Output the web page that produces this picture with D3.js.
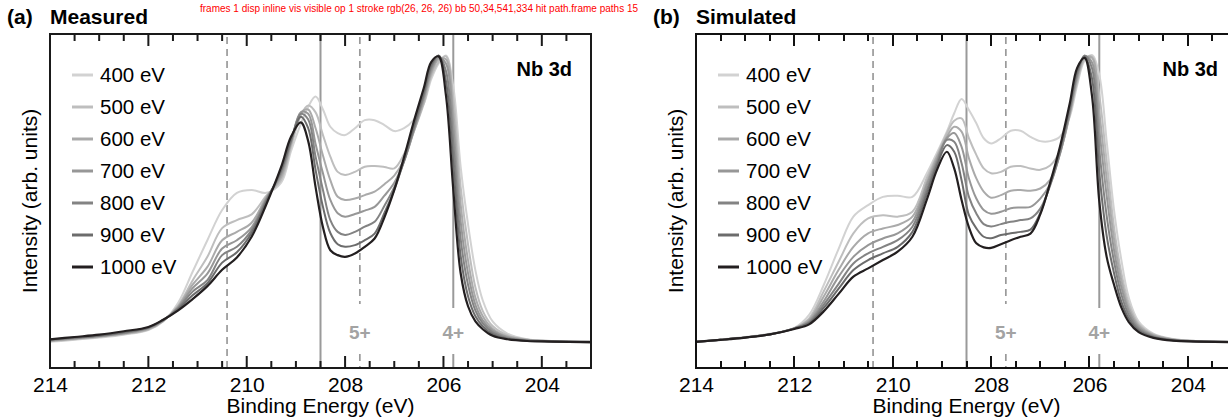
<!DOCTYPE html>
<html>
<head>
<meta charset="utf-8">
<script src="https://cdn.jsdelivr.net/npm/d3@7"></script>
<style>
  body { margin: 0; background: #fff; }
  #wrap { position: relative; width: 1228px; height: 420px; overflow: hidden; }
  svg { display: block; font-family: "Liberation Sans", Arial, sans-serif; }
  .bar { position: absolute; background: #111; }
</style>
</head>
<body>
<div id="wrap"><svg id="chart" width="1228" height="420"></svg></div>
<script>
// binding energy grid (eV) shared by all curves
var energy = [214, 213.5, 213, 212.5, 212, 211.7, 211.4, 211.1, 210.8, 210.5, 210.2, 209.9, 209.6, 209.3, 209.1,
  208.9, 208.75, 208.6, 208.45, 208.3, 208.15, 208.0, 207.8, 207.6, 207.4, 207.2, 207.0, 206.8, 206.6, 206.4,
  206.25, 206.1, 205.95, 205.8, 205.65, 205.5, 205.35, 205.2, 205.0, 204.7, 204.3, 203.8, 203]

var photonEnergies = ["400 eV", "500 eV", "600 eV", "700 eV", "800 eV", "900 eV", "1000 eV"]

// (a) measured spectra, normalised intensity
var meas400 = [0.001, 0.008, 0.016, 0.026, 0.042, 0.072, 0.135, 0.245, 0.355, 0.46, 0.52, 0.53, 0.52, 0.555, 0.665,
  0.76, 0.82, 0.855, 0.81, 0.75, 0.728, 0.721, 0.745, 0.773, 0.773, 0.756, 0.735, 0.745, 0.775, 0.83,
  0.915, 0.97, 0.998, 0.89, 0.61, 0.41, 0.25, 0.145, 0.072, 0.03, 0.010, 0.004, 0.001]
var meas500 = [0.003, 0.010, 0.018, 0.028, 0.044, 0.073, 0.126, 0.215, 0.297, 0.397, 0.425, 0.445, 0.51, 0.565, 0.68,
  0.79, 0.824, 0.80, 0.721, 0.646, 0.593, 0.582, 0.593, 0.611, 0.613, 0.61, 0.605, 0.655, 0.735, 0.83,
  0.925, 0.975, 0.995, 0.85, 0.54, 0.34, 0.19, 0.108, 0.056, 0.024, 0.009, 0.004, 0.001]
var meas600 = [0.005, 0.012, 0.020, 0.030, 0.046, 0.074, 0.123, 0.20, 0.262, 0.355, 0.384, 0.416, 0.505, 0.575, 0.69,
  0.80, 0.81, 0.745, 0.65, 0.564, 0.506, 0.495, 0.50, 0.512, 0.524, 0.55, 0.58, 0.635, 0.735, 0.84,
  0.935, 0.985, 0.985, 0.80, 0.48, 0.285, 0.155, 0.09, 0.047, 0.020, 0.008, 0.003, 0.001]
var meas700 = [0.006, 0.013, 0.021, 0.031, 0.048, 0.075, 0.12, 0.188, 0.239, 0.326, 0.355, 0.40, 0.50, 0.585, 0.695,
  0.80, 0.795, 0.69, 0.588, 0.495, 0.449, 0.437, 0.446, 0.458, 0.471, 0.51, 0.555, 0.63, 0.74, 0.85,
  0.945, 0.99, 0.97, 0.75, 0.42, 0.24, 0.13, 0.076, 0.04, 0.017, 0.007, 0.003, 0.001]
var meas800 = [0.008, 0.015, 0.022, 0.033, 0.050, 0.076, 0.117, 0.176, 0.216, 0.303, 0.332, 0.39, 0.495, 0.595, 0.70,
  0.795, 0.775, 0.646, 0.53, 0.425, 0.384, 0.373, 0.384, 0.402, 0.419, 0.475, 0.54, 0.63, 0.745, 0.86,
  0.955, 0.997, 0.945, 0.69, 0.36, 0.20, 0.11, 0.065, 0.034, 0.014, 0.006, 0.003, 0.000]
var meas900 = [0.009, 0.016, 0.023, 0.035, 0.051, 0.077, 0.114, 0.163, 0.205, 0.277, 0.313, 0.38, 0.49, 0.60, 0.705,
  0.785, 0.745, 0.60, 0.471, 0.38, 0.341, 0.332, 0.338, 0.355, 0.378, 0.45, 0.53, 0.635, 0.755, 0.87,
  0.965, 0.998, 0.91, 0.62, 0.30, 0.16, 0.09, 0.055, 0.028, 0.012, 0.005, 0.002, 0.000]
var meas1000 = [0.010, 0.018, 0.026, 0.038, 0.053, 0.078, 0.110, 0.150, 0.195, 0.252, 0.295, 0.367, 0.48, 0.61, 0.715,
  0.765, 0.70, 0.54, 0.40, 0.32, 0.303, 0.297, 0.309, 0.332, 0.361, 0.435, 0.53, 0.645, 0.77, 0.885,
  0.975, 0.995, 0.86, 0.53, 0.24, 0.125, 0.072, 0.045, 0.022, 0.010, 0.004, 0.002, 0.000]

// (b) simulated spectra
var sim400 = [0.002, 0.009, 0.018, 0.029, 0.05, 0.095, 0.20, 0.325, 0.437, 0.477, 0.506, 0.51, 0.506, 0.59, 0.66,
  0.733, 0.797, 0.847, 0.808, 0.762, 0.71, 0.692, 0.71, 0.736, 0.736, 0.715, 0.70, 0.70, 0.715, 0.785,
  0.895, 0.98, 1.0, 0.93, 0.70, 0.46, 0.285, 0.155, 0.072, 0.03, 0.011, 0.004, 0.001]
var sim500 = [0.001, 0.008, 0.016, 0.027, 0.048, 0.083, 0.178, 0.28, 0.379, 0.431, 0.442, 0.437, 0.454, 0.575, 0.65,
  0.727, 0.771, 0.779, 0.71, 0.652, 0.605, 0.588, 0.593, 0.611, 0.613, 0.605, 0.60, 0.615, 0.665, 0.79,
  0.905, 0.985, 0.995, 0.86, 0.63, 0.40, 0.24, 0.135, 0.064, 0.027, 0.010, 0.004, 0.001]
var sim600 = [0.001, 0.008, 0.016, 0.027, 0.048, 0.078, 0.16, 0.252, 0.332, 0.379, 0.396, 0.408, 0.437, 0.56, 0.645,
  0.715, 0.75, 0.733, 0.64, 0.57, 0.524, 0.503, 0.512, 0.527, 0.53, 0.527, 0.535, 0.565, 0.655, 0.795,
  0.915, 0.99, 0.99, 0.80, 0.57, 0.36, 0.215, 0.12, 0.058, 0.024, 0.009, 0.003, 0.001]
var sim700 = [0.001, 0.008, 0.016, 0.027, 0.048, 0.073, 0.143, 0.228, 0.297, 0.338, 0.361, 0.379, 0.419, 0.55, 0.635,
  0.71, 0.728, 0.68, 0.57, 0.50, 0.46, 0.447, 0.454, 0.466, 0.469, 0.471, 0.50, 0.55, 0.655, 0.80,
  0.925, 0.995, 0.975, 0.74, 0.51, 0.32, 0.19, 0.108, 0.052, 0.022, 0.008, 0.003, 0.001]
var sim800 = [0.001, 0.008, 0.016, 0.027, 0.048, 0.069, 0.131, 0.203, 0.274, 0.309, 0.332, 0.355, 0.402, 0.535, 0.625,
  0.704, 0.698, 0.623, 0.506, 0.448, 0.411, 0.403, 0.411, 0.419, 0.425, 0.431, 0.465, 0.545, 0.66, 0.81,
  0.935, 0.998, 0.955, 0.67, 0.44, 0.28, 0.165, 0.095, 0.046, 0.019, 0.007, 0.003, 0.000]
var sim900 = [0.001, 0.008, 0.016, 0.027, 0.048, 0.066, 0.12, 0.186, 0.251, 0.286, 0.309, 0.332, 0.384, 0.52, 0.615,
  0.686, 0.663, 0.564, 0.442, 0.396, 0.367, 0.362, 0.373, 0.379, 0.384, 0.392, 0.45, 0.55, 0.67, 0.82,
  0.945, 0.995, 0.92, 0.59, 0.37, 0.24, 0.14, 0.082, 0.04, 0.017, 0.006, 0.002, 0.000]
var sim1000 = [0.001, 0.008, 0.016, 0.027, 0.046, 0.062, 0.108, 0.168, 0.228, 0.257, 0.286, 0.315, 0.367, 0.50, 0.60,
  0.663, 0.605, 0.495, 0.40, 0.344, 0.33, 0.328, 0.341, 0.355, 0.367, 0.378, 0.445, 0.555, 0.68, 0.832,
  0.955, 0.99, 0.86, 0.49, 0.297, 0.20, 0.12, 0.07, 0.035, 0.015, 0.005, 0.002, 0.000]

var majorTicks = [214, 212, 210, 208, 206, 204]
var minorTicks = [213.5, 213, 212.5, 211.5, 211, 210.5, 209.5, 209, 208.5, 207.5, 207, 206.5, 205.5, 205, 204.5, 203.5]
var solidRefs = [208.5, 205.8]
var dashedRefs = [210.4, 207.7]
var stateLabels = [{ e: 207.7, text: "5+" }, { e: 205.8, text: "4+" }]

var shades = ["#d2d2d2", "#bebebe", "#aaaaaa", "#979797", "#838383", "#6c6c6c", "#231f20"]

var svg = d3.select("#chart")
var plotTop = 34, plotBottom = 368, plotWidth = 541

function drawPanel(left, tag, title, series) {
  var x = d3.scaleLinear().domain([214, 203]).range([left, left + plotWidth])
  var y = d3.scaleLinear().domain([-0.09, 1.073]).range([plotBottom, plotTop])
  var g = svg.append("g")

  function vline(e, y1, y2, dashed) {
    g.append("line").attr("x1", x(e)).attr("x2", x(e)).attr("y1", y1).attr("y2", y2)
      .attr("stroke", "#9a9a9a").attr("stroke-width", dashed ? 1.7 : 2)
      .attr("stroke-dasharray", dashed ? "7,5" : null)
  }
  solidRefs.forEach(function (e) {
    if (e === 205.8) { vline(e, plotTop, 308, false); vline(e, 354, plotBottom, false) }
    else vline(e, plotTop, plotBottom, false)
  })
  dashedRefs.forEach(function (e) {
    if (e === 207.7) { vline(e, plotTop + 3, 304, true); vline(e, 354, plotBottom, true) }
    else vline(e, plotTop + 3, plotBottom, true)
  })
  g.selectAll("text.state").data(stateLabels).enter().append("text")
    .attr("class", "state")
    .attr("x", function (d) { return x(d.e) })
    .attr("y", 339)
    .attr("text-anchor", "middle")
    .attr("font-size", 19).attr("font-weight", "bold").attr("fill", "#a3a3a3")
    .text(function (d) { return d.text })

  var line = d3.line()
    .x(function (d) { return x(d[0]) })
    .y(function (d) { return y(d[1]) })
    .curve(d3.curveCatmullRom.alpha(0.5))

  g.selectAll("path.spec").data(series).enter().append("path")
    .attr("class", "spec")
    .attr("fill", "none")
    .attr("stroke", function (d, i) { return shades[i] })
    .attr("stroke-width", function (d, i) { return i === 6 ? 2.2 : 2 })
    .attr("d", function (d) { return line(energy.map(function (e, k) { return [e, d[k]] })) })

  var axB = d3.axisBottom(x).tickValues(majorTicks).tickSize(0).tickPadding(9).tickFormat(d3.format("d"))
  var ag = g.append("g").attr("transform", "translate(0," + plotBottom + ")").call(axB)
  ag.select(".domain").remove()
  ag.selectAll(".tick text").attr("font-size", 21).attr("fill", "#000")
    .attr("font-family", "Liberation Sans, Arial, sans-serif")

  g.append("text").attr("x", left + plotWidth / 2).attr("y", 413).attr("text-anchor", "middle")
    .attr("font-size", 21).text("Binding Energy (eV)")
  g.append("text").attr("transform", "translate(" + (left - 13) + ",201) rotate(-90)")
    .attr("text-anchor", "middle").attr("font-size", 21).text("Intensity (arb. units)")

  g.append("text").attr("x", left - 43).attr("y", 24).attr("font-size", 21).attr("font-weight", "bold").text(tag)
  g.append("text").attr("x", left).attr("y", 24).attr("font-size", 21).attr("font-weight", "bold").text(title)
  g.append("text").attr("x", left + 522).attr("y", 76).attr("text-anchor", "end")
    .attr("font-size", 20).attr("font-weight", "bold").text("Nb 3d")

  var leg = g.selectAll("g.leg").data(photonEnergies).enter().append("g")
    .attr("class", "leg")
    .attr("transform", function (d, i) { return "translate(" + (left + 22) + "," + (75 + i * 32) + ")" })
  leg.append("line").attr("x1", 0).attr("x2", 21).attr("y1", 0).attr("y2", 0)
    .attr("stroke", function (d, i) { return shades[i] }).attr("stroke-width", 3)
  leg.append("text").attr("x", 28).attr("y", 7).attr("font-size", 20.5).text(function (d) { return d })

  return x
}

// frame and ticks as one svg path (used for panel a)
function drawFrameSvg(x) {
  var left = x.range()[0], right = x.range()[1]
  var p = d3.path()
  p.rect(left, plotTop, right - left, plotBottom - plotTop)
  majorTicks.concat(minorTicks).forEach(function (v) {
    var len = majorTicks.indexOf(v) >= 0 ? 12 : 7
    p.moveTo(x(v), plotBottom); p.lineTo(x(v), plotBottom - len)
    p.moveTo(x(v), plotTop); p.lineTo(x(v), plotTop + len)
  })
  svg.append("path").attr("class", "frame")
    .attr("d", p.toString()).attr("fill", "none").attr("stroke", "#1a1a1a").attr("stroke-width", 2)
}

// frame and ticks as html bars positioned with the same scale (used for panel b)
function drawFrameHtml(x) {
  var left = x.range()[0], right = x.range()[1]
  var bars = [[left - 1, plotTop - 1, right - left + 2, 2], [left - 1, plotBottom - 1, right - left + 2, 2],
    [left - 1, plotTop - 1, 2, plotBottom - plotTop + 2], [right - 1, plotTop - 1, 2, plotBottom - plotTop + 2]]
  majorTicks.concat(minorTicks).forEach(function (v) {
    var len = majorTicks.indexOf(v) >= 0 ? 12 : 7
    bars.push([x(v) - 1, plotBottom - len, 2, len])
    bars.push([x(v) - 1, plotTop, 2, len])
  })
  d3.select("#wrap").selectAll(null).data(bars).enter().append("div").attr("class", "bar")
    .style("left", function (d) { return d[0] + "px" }).style("top", function (d) { return d[1] + "px" })
    .style("width", function (d) { return d[2] + "px" }).style("height", function (d) { return d[3] + "px" })
}

var xa = drawPanel(50, "(a)", "Measured", [meas400, meas500, meas600, meas700, meas800, meas900, meas1000])
var xb = drawPanel(696, "(b)", "Simulated", [sim400, sim500, sim600, sim700, sim800, sim900, sim1000])
drawFrameSvg(xa)
drawFrameHtml(xb)

// temporary diagnostic
var fr = document.querySelector("path.frame")
var cs = getComputedStyle(fr)
var bb = fr.getBBox()
var hit = document.elementFromPoint(50, 200)
svg.append("text").attr("x", 200).attr("y", 12).attr("font-size", 10).attr("fill", "red")
  .text("frames " + document.querySelectorAll("path.frame").length + " disp " + cs.display + " vis " + cs.visibility +
    " op " + cs.opacity + " stroke " + cs.stroke + " bb " + Math.round(bb.x) + "," + Math.round(bb.y) + "," +
    Math.round(bb.width) + "," + Math.round(bb.height) + " hit " + (hit ? hit.tagName + "." + hit.getAttribute("class") : "none") +
    " paths " + document.querySelectorAll("path").length)
</script>
</body>
</html>
